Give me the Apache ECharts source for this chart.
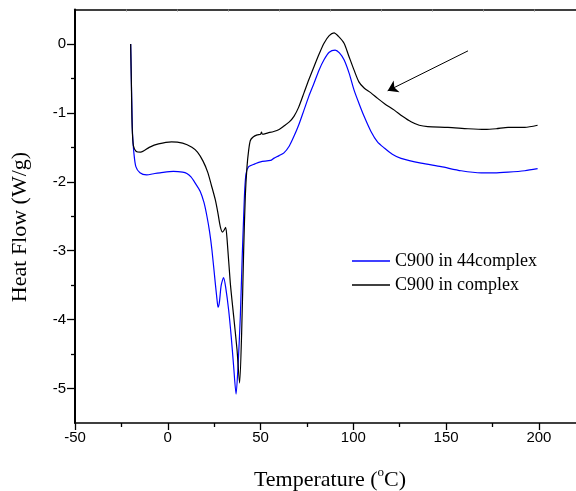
<!DOCTYPE html>
<html>
<head>
<meta charset="utf-8">
<script src="https://cdn.jsdelivr.net/npm/echarts@6/dist/echarts.min.js"></script>
<style>html,body{margin:0;padding:0;background:#fff}#c{width:576px;height:491px}</style>
</head>
<body>
<div id="c"></div>
<script>
// Temperatures (°C) and heat flow (W/g)
var blackT = [-20,-19.6,-19.2,-18.5,-17,-14.6,-10,-5,2,8,13,16,19,21.5,23.5,25.6,27,28.3,29.5,30.4,31.2,32,33.7,35.5,37.3,38.7,39.8,40.9,41.8,42.7,43.6,44.5,46,48.2,50,50.5,51,54,57.1,60,62.6,65.5,68,70.5,73.4,76,78.8,81.5,84.2,87,89.6,92,95,97.5,100.4,103,105.8,109.5,113.1,117,122.1,126.5,131.1,135.5,140.1,151,161.8,170.8,177,183.4,192.4,199.3];
var blackHF = [0,-0.6,-1.2,-1.48,-1.56,-1.57,-1.5,-1.45,-1.42,-1.44,-1.5,-1.57,-1.7,-1.86,-2.05,-2.26,-2.45,-2.65,-2.73,-2.7,-2.66,-2.85,-3.47,-3.95,-4.43,-4.92,-4.2,-2.99,-2.2,-1.78,-1.54,-1.4,-1.35,-1.32,-1.31,-1.28,-1.31,-1.29,-1.27,-1.24,-1.19,-1.13,-1.05,-0.92,-0.71,-0.52,-0.33,-0.15,0.01,0.12,0.16,0.11,0.01,-0.17,-0.38,-0.55,-0.64,-0.71,-0.79,-0.87,-0.96,-1.05,-1.13,-1.18,-1.2,-1.21,-1.23,-1.24,-1.23,-1.21,-1.21,-1.18];
var blueT = [-20,-19.5,-19,-18.2,-17.2,-15,-11.4,-7,-4.2,3,8,10.3,12.5,14.8,17.5,19.5,21.1,22.5,23.8,25.6,26.5,27.1,27.8,28.8,30.1,31.3,32.8,34.2,35.5,36.8,38,39.1,40.1,40.9,41.5,42.2,43.6,47,50,55.4,57.1,60,62.6,65.5,68,70.5,73.4,76,78.8,81.5,84.2,87,90.2,92.5,95,97.8,100.4,103,105.8,109.5,113,116.7,121,125.7,136.5,147.3,158.1,168.9,176,183.4,192.4,199.3];
var blueHF = [0,-0.7,-1.3,-1.6,-1.78,-1.87,-1.9,-1.88,-1.87,-1.85,-1.86,-1.88,-1.93,-2.02,-2.14,-2.3,-2.5,-2.72,-2.99,-3.47,-3.7,-3.82,-3.75,-3.5,-3.39,-3.55,-3.86,-4.25,-4.68,-5.08,-4.6,-3.95,-3.1,-2.5,-2.1,-1.88,-1.78,-1.74,-1.71,-1.69,-1.66,-1.62,-1.58,-1.48,-1.34,-1.18,-0.96,-0.76,-0.57,-0.38,-0.23,-0.12,-0.09,-0.13,-0.23,-0.43,-0.67,-0.86,-1.05,-1.27,-1.42,-1.51,-1.6,-1.66,-1.73,-1.78,-1.84,-1.87,-1.87,-1.86,-1.84,-1.81];
var xMajor = [-50,0,50,100,150,200];
var xMinor = [-25,25,75,125,175];
var yMajor = [-5,-4,-3,-2,-1,0];
var yMinor = [-4.5,-3.5,-2.5,-1.5,-0.5];
var topTicks = [1,2,3,4,5,6,7,8,9];
var seriesNames = ['C900 in 44complex','C900 in complex'];
var arrowFrom = [161.8,-0.10], arrowTo = [118.5,-0.68];

function zip(a,b){return a.map(function(v,i){return [v,b[i]];});}

var chart = echarts.init(document.getElementById('c'), null, {renderer:'canvas'});
var sans = 'Liberation Sans, Arial, sans-serif';
var serif = 'Liberation Serif, Times New Roman, serif';
chart.setOption({
  animation:false,
  backgroundColor:'#fff',
  grid:{left:75,right:0,top:9.5,bottom:68,outerBoundsMode:'none'},
  xAxis:[
    {type:'value',min:-50,max:220,position:'bottom',
     axisLine:{show:true,onZero:false,lineStyle:{color:'#000',width:1.6}},
     axisTick:{show:true,inside:false,length:7,customValues:xMajor,lineStyle:{color:'#000',width:1.3}},
     axisLabel:{show:true,customValues:xMajor,color:'#000',fontFamily:sans,fontSize:15,margin:7},
     splitLine:{show:false}},
    {type:'value',min:-50,max:220,position:'bottom',
     axisLine:{show:false,onZero:false},
     axisTick:{show:true,inside:false,length:4,customValues:xMinor,lineStyle:{color:'#000',width:1.3}},
     axisLabel:{show:false},splitLine:{show:false}},
    {type:'value',min:0,max:9.82,position:'top',
     axisLine:{show:true,onZero:false,lineStyle:{color:'#000',width:1.5}},
     axisTick:{show:true,inside:true,length:2,customValues:topTicks,lineStyle:{color:'#888',width:1}},
     axisLabel:{show:false},splitLine:{show:false}}
  ],
  yAxis:[
    {type:'value',min:-5.5,max:0.5,position:'left',
     axisLine:{show:true,onZero:false,lineStyle:{color:'#000',width:2}},
     axisTick:{show:true,inside:false,length:8,customValues:yMajor,lineStyle:{color:'#000',width:1.3}},
     axisLabel:{show:true,customValues:yMajor,color:'#000',fontFamily:sans,fontSize:15,margin:9},
     splitLine:{show:false}},
    {type:'value',min:-5.5,max:0.5,position:'left',
     axisLine:{show:false,onZero:false},
     axisTick:{show:true,inside:false,length:4,customValues:yMinor,lineStyle:{color:'#000',width:1.3}},
     axisLabel:{show:false},splitLine:{show:false}}
  ],
  legend:{
    orient:'vertical',left:347,top:247,itemWidth:38,itemHeight:1.3,itemGap:6,icon:'rect',
    data:seriesNames,
    textStyle:{fontFamily:serif,fontSize:18,color:'#000',lineHeight:18}
  },
  graphic:[
    {type:'text',style:{
      text:'Temperature ({sup|o}C)',x:330,y:480,align:'center',verticalAlign:'middle',
      font:'22px '+serif,fill:'#000',
      rich:{sup:{fontSize:13,fontFamily:serif,verticalAlign:'top',padding:[0,0,14,0]}}}},
    {type:'text',rotation:Math.PI/2,x:20,y:227,style:{
      text:'Heat Flow (W/g)',x:0,y:0,align:'center',verticalAlign:'middle',
      font:'22px '+serif,fill:'#000'}}
  ],
  series:[
    {name:seriesNames[0],type:'line',data:zip(blueT,blueHF),symbol:'none',smooth:0.25,
     color:'#0000ff',lineStyle:{color:'#0000ff',width:1.2}},
    {name:seriesNames[1],type:'line',data:zip(blackT,blackHF),symbol:'none',smooth:0.25,
     color:'#000',lineStyle:{color:'#000',width:1.2},
     markLine:{silent:true,symbol:['none','arrow'],symbolSize:10,label:{show:false},
       lineStyle:{color:'#000',width:1,type:'solid'},
       data:[[{coord:arrowFrom},{coord:arrowTo}]]}}
  ]
});
</script>
</body>
</html>
